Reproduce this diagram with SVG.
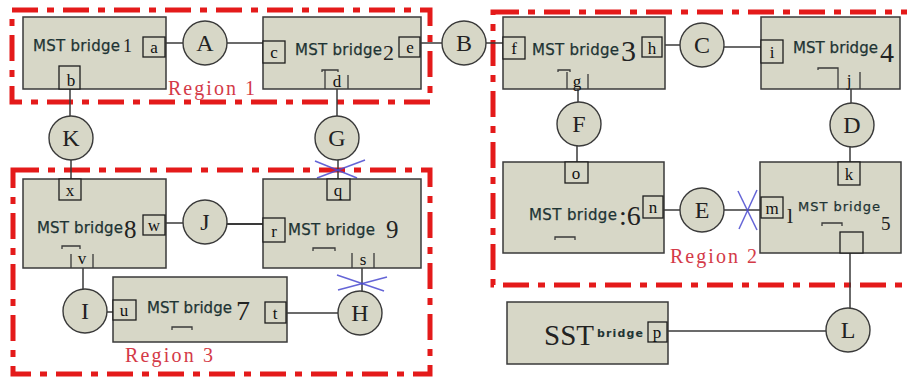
<svg xmlns="http://www.w3.org/2000/svg" width="907" height="378" viewBox="0 0 907 378">
<style>
.bg{fill:#ffffff}
.br{fill:#d7d7c7;stroke:#3a3a3a;stroke-width:1.5}
.pt{fill:#d7d7c7;stroke:#1e1e1e;stroke-width:1.3}
.nd{fill:#d7d7c7;stroke:#3a3a3a;stroke-width:1.4}
.ln{stroke:#3a3a3a;stroke-width:1.5;fill:none}
.reg{fill:none;stroke:#e41a1a;stroke-width:5;stroke-dasharray:26 9 7 9}
.x{stroke:#4a4ad0;stroke-width:1.5;opacity:0.85}
.mst{font-family:"DejaVu Sans",sans-serif;font-size:15px;fill:#1e3434;stroke:#1e3434;stroke-width:0.25}
.num{font-family:"Liberation Serif",serif;fill:#222}
.pl{font-family:"Liberation Serif",serif;font-size:17px;text-anchor:middle;fill:#111}
.cl{font-family:"Liberation Serif",serif;font-size:24px;text-anchor:middle;fill:#222}
.rl{font-family:"Liberation Serif",serif;font-size:20px;fill:#d43a48}
</style>
<rect class="bg" x="0" y="0" width="907" height="378"/>

<g id="regions">
<rect class="reg" x="12" y="10" width="418" height="92"/>
<rect class="reg" x="493" y="12" width="417" height="273"/>
<rect class="reg" x="13" y="170" width="417" height="204"/>
<text class="rl" x="168" y="95" textLength="87">Region 1</text>
<text class="rl" x="670" y="263" textLength="87">Region 2</text>
<text class="rl" x="125" y="362" textLength="88">Region 3</text>
</g>

<g id="connectors">
<line class="ln" x1="165" y1="43" x2="183" y2="43"/>
<line class="ln" x1="227" y1="43" x2="263" y2="43"/>
<line class="ln" x1="421" y1="43" x2="442" y2="43"/>
<line class="ln" x1="486" y1="43" x2="503" y2="43"/>
<line class="ln" x1="662" y1="45" x2="680" y2="45"/>
<line class="ln" x1="724" y1="47" x2="761" y2="47"/>
<line class="ln" x1="70" y1="89" x2="70" y2="116"/>
<line class="ln" x1="71" y1="160" x2="71" y2="179"/>
<line class="ln" x1="337" y1="89" x2="337" y2="116"/>
<line class="ln" x1="338" y1="160" x2="338" y2="179"/>
<line class="ln" x1="578" y1="89" x2="578" y2="102"/>
<line class="ln" x1="577" y1="146" x2="577" y2="162"/>
<line class="ln" x1="851" y1="89" x2="851" y2="103"/>
<line class="ln" x1="850" y1="147" x2="850" y2="162"/>
<line class="ln" x1="663" y1="210" x2="680" y2="210"/>
<line class="ln" x1="724" y1="210" x2="761" y2="210"/>
<line class="ln" x1="850" y1="238" x2="850" y2="308"/>
<line class="ln" x1="667" y1="331" x2="826" y2="331"/>
<line class="ln" x1="165" y1="223" x2="183" y2="223"/>
<line class="ln" x1="227" y1="224" x2="263" y2="224" style="stroke-width:2.2"/>
<line class="ln" x1="83" y1="268" x2="83" y2="289"/>
<line class="ln" x1="107" y1="312" x2="113" y2="312"/>
<line class="ln" x1="286" y1="313" x2="338" y2="313"/>
<line class="ln" x1="362" y1="268" x2="362" y2="291"/>
<line class="x" x1="315" y1="161" x2="357" y2="178"/>
<line class="x" x1="317" y1="178" x2="365" y2="160"/>
<line class="x" x1="337" y1="275" x2="384" y2="291"/>
<line class="x" x1="338" y1="290" x2="387" y2="277"/>
<line class="x" x1="738" y1="191" x2="757" y2="230"/>
<line class="x" x1="757" y1="190" x2="739" y2="229"/>
</g>

<g id="bridge1">
<rect class="br" x="23" y="17" width="143" height="72"/>
<text class="mst" x="33" y="51" textLength="87">MST bridge</text>
<text class="num" x="123" y="52" font-size="18">1</text>
<rect class="pt" x="143" y="37" width="22" height="20"/><text class="pl" x="154" y="53">a</text>
<rect class="pt" x="59" y="66" width="21" height="23"/><text class="pl" x="71" y="86">b</text>
</g>

<g id="bridge2">
<rect class="br" x="263" y="17" width="158" height="72"/>
<text class="mst" x="295" y="55" textLength="87">MST bridge</text>
<text class="num" x="383" y="60" font-size="22">2</text>
<rect class="pt" x="263" y="41" width="22" height="22"/><text class="pl" x="274" y="58">c</text>
<rect class="pt" x="399" y="37" width="21" height="20"/><text class="pl" x="410" y="53">e</text>
<path class="ln" d="M322 72 V70 H338 V72 M325 70 V89 M348 75 V89" style="stroke-width:1.3"/>
<text class="pl" x="337" y="87">d</text>
</g>

<g id="bridge3">
<rect class="br" x="503" y="17" width="162" height="72"/>
<text class="mst" x="532" y="55" textLength="87">MST bridge</text>
<text class="num" x="621" y="61" font-size="30">3</text>
<rect class="pt" x="503" y="37" width="22" height="22"/><text class="pl" x="514" y="54">f</text>
<rect class="pt" x="642" y="37" width="20" height="20"/><text class="pl" x="652" y="54">h</text>
<path class="ln" d="M558 72 V70 H570 V72 M567 72 V89 M588 74 V89" style="stroke-width:1.3"/>
<text class="pl" x="577" y="87">g</text>
</g>

<g id="bridge4">
<rect class="br" x="761" y="17" width="139" height="72"/>
<text class="mst" x="793" y="53" textLength="85">MST bridge</text>
<text class="num" x="880" y="62" font-size="28">4</text>
<rect class="pt" x="761" y="40" width="22" height="23"/><text class="pl" x="772" y="58">i</text>
<path class="ln" d="M818 70 V68 H838 V89 M860 72 V89" style="stroke-width:1.3"/>
<text class="pl" x="849" y="86">j</text>
</g>

<g id="bridge5">
<rect class="br" x="760" y="162" width="141" height="91"/>
<text class="mst" x="798" y="211" font-size="13" textLength="82" style="font-size:13px">MST bridge</text>
<text class="num" x="881" y="230" font-size="19">5</text>
<text class="num" x="787" y="223" font-size="22">l</text>
<path class="ln" d="M822 226 V223 H842 V226" style="stroke-width:1.3"/>
<rect class="pt" x="838" y="162" width="22" height="23"/><text class="pl" x="849" y="180">k</text>
<rect class="pt" x="761" y="197" width="22" height="21"/><text class="pl" x="772" y="214">m</text>
<rect class="pt" x="840" y="232" width="23" height="21"/>
</g>

<g id="bridge6">
<rect class="br" x="503" y="162" width="161" height="91"/>
<text class="mst" x="529" y="220" textLength="88">MST bridge</text>
<text class="num" x="619" y="225" font-size="28">:6</text>
<path class="ln" d="M555 240 V237 H575 V240" style="stroke-width:1.3"/>
<rect class="pt" x="565" y="162" width="23" height="21"/><text class="pl" x="576" y="179">o</text>
<rect class="pt" x="643" y="196" width="20" height="22"/><text class="pl" x="653" y="213">n</text>
</g>

<g id="bridge7">
<rect class="br" x="113" y="277" width="174" height="65"/>
<text class="mst" x="147" y="313" textLength="85">MST bridge</text>
<text class="num" x="236" y="320" font-size="28">7</text>
<path class="ln" d="M172 330 V327 H192 V330" style="stroke-width:1.3"/>
<rect class="pt" x="113" y="300" width="23" height="20"/><text class="pl" x="124" y="316">u</text>
<rect class="pt" x="265" y="302" width="21" height="21"/><text class="pl" x="275" y="319">t</text>
</g>

<g id="bridge8">
<rect class="br" x="23" y="179" width="143" height="89"/>
<text class="mst" x="37" y="233" textLength="86">MST bridge</text>
<text class="num" x="124" y="238" font-size="25">8</text>
<rect class="pt" x="59" y="179" width="22" height="21"/><text class="pl" x="70" y="196">x</text>
<rect class="pt" x="143" y="215" width="22" height="20"/><text class="pl" x="154" y="231">w</text>
<path class="ln" d="M62 249 V246 H80 V249 M71 254 V268 M93 254 V268" style="stroke-width:1.3"/>
<text class="pl" x="82" y="264">v</text>
</g>

<g id="bridge9">
<rect class="br" x="263" y="179" width="158" height="89"/>
<text class="mst" x="288" y="235" textLength="87">MST bridge</text>
<text class="num" x="386" y="238" font-size="25">9</text>
<path class="ln" d="M313 251 V248 H335 V251" style="stroke-width:1.3"/>
<rect class="pt" x="327" y="179" width="23" height="21"/><text class="pl" x="338" y="196">q</text>
<rect class="pt" x="263" y="218" width="22" height="24"/><text class="pl" x="274" y="237">r</text>
<path class="ln" d="M352 253 V268 M374 253 V268" style="stroke-width:1.3"/>
<text class="pl" x="363" y="265">s</text>
</g>

<g id="sst">
<rect class="br" x="507" y="302" width="161" height="62"/>
<text class="num" x="544" y="345" font-size="29">SST</text>
<text x="597" y="337" style="font-family:'DejaVu Sans',sans-serif;font-size:11px;font-weight:bold;fill:#1e3434" textLength="46">bridge</text>
<rect class="pt" x="648" y="322" width="19" height="20"/><text class="pl" x="657" y="338">p</text>
</g>

<g id="A"><circle class="nd" cx="205" cy="43" r="22"/><text class="cl" x="205" y="51">A</text></g>
<g id="B"><circle class="nd" cx="464" cy="43" r="22"/><text class="cl" x="464" y="51">B</text></g>
<g id="C"><circle class="nd" cx="702" cy="45" r="22"/><text class="cl" x="702" y="53">C</text></g>
<g id="D"><circle class="nd" cx="852" cy="125" r="22"/><text class="cl" x="852" y="133">D</text></g>
<g id="E"><circle class="nd" cx="702" cy="210" r="22"/><text class="cl" x="702" y="218">E</text></g>
<g id="F"><circle class="nd" cx="579" cy="124" r="22"/><text class="cl" x="579" y="132">F</text></g>
<g id="G"><circle class="nd" cx="337" cy="138" r="22"/><text class="cl" x="337" y="146">G</text></g>
<g id="H"><circle class="nd" cx="360" cy="313" r="22"/><text class="cl" x="360" y="321">H</text></g>
<g id="I"><circle class="nd" cx="85" cy="311" r="22"/><text class="cl" x="85" y="319">I</text></g>
<g id="J"><circle class="nd" cx="205" cy="222" r="22"/><text class="cl" x="205" y="230">J</text></g>
<g id="K"><circle class="nd" cx="71" cy="138" r="22"/><text class="cl" x="71" y="146">K</text></g>
<g id="L"><circle class="nd" cx="848" cy="330" r="22"/><text class="cl" x="848" y="338">L</text></g>
</svg>
